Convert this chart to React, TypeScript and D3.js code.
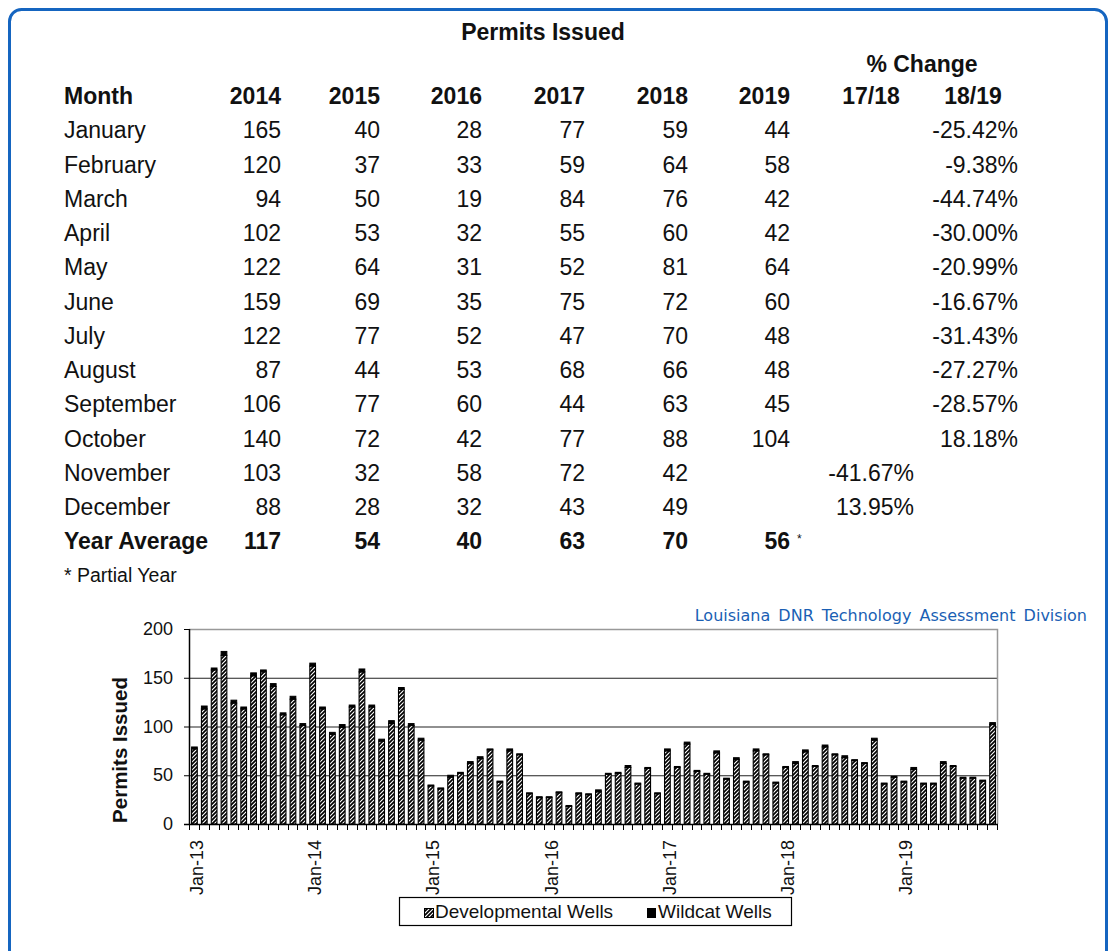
import React, { useEffect, useRef } from 'react';
import * as d3 from 'd3';

// ---- table data ----
const months = ['January', 'February', 'March', 'April', 'May', 'June', 'July', 'August', 'September', 'October', 'November', 'December'];
const years = ['2014', '2015', '2016', '2017', '2018', '2019'];
const y2014 = [165, 120, 94, 102, 122, 159, 122, 87, 106, 140, 103, 88];
const y2015 = [40, 37, 50, 53, 64, 69, 77, 44, 77, 72, 32, 28];
const y2016 = [28, 33, 19, 32, 31, 35, 52, 53, 60, 42, 58, 32];
const y2017 = [77, 59, 84, 55, 52, 75, 47, 68, 44, 77, 72, 43];
const y2018 = [59, 64, 76, 60, 81, 72, 70, 66, 63, 88, 42, 49];
const y2019 = [44, 58, 42, 42, 64, 60, 48, 48, 45, 104];
const yearAverages = [117, 54, 40, 63, 70, 56];
const change1718 = ['', '', '', '', '', '', '', '', '', '', '-41.67%', '13.95%'];
const change1819 = ['-25.42%', '-9.38%', '-44.74%', '-30.00%', '-20.99%', '-16.67%', '-31.43%', '-27.27%', '-28.57%', '18.18%', '', ''];

// ---- chart data (Jan-13 .. Oct-19) ----
const y2013 = [79, 121, 160, 177, 127, 120, 155, 158, 144, 114, 131, 103];
const monthlyTotals = [...y2013, ...y2014, ...y2015, ...y2016, ...y2017, ...y2018, ...y2019];
// wildcat share is too thin to read off the picture; rough estimate
const wildcat = [
  2, 3, 2, 4, 3, 2, 3, 2, 3, 2, 3, 2,
  3, 2, 2, 3, 2, 3, 2, 2, 3, 2, 2, 2,
  1, 1, 2, 1, 2, 2, 1, 1, 2, 1, 1, 1,
  1, 1, 1, 1, 1, 2, 1, 1, 2, 1, 1, 1,
  2, 1, 2, 1, 1, 2, 1, 2, 1, 2, 1, 1,
  1, 2, 2, 1, 2, 1, 2, 1, 1, 2, 1, 1,
  1, 2, 1, 1, 2, 1, 1, 1, 1, 2,
];
const monthAbbr = ['Jan', 'Feb', 'Mar', 'Apr', 'May', 'Jun', 'Jul', 'Aug', 'Sep', 'Oct', 'Nov', 'Dec'];
const chartLabels = monthlyTotals.map((_, i) => `${monthAbbr[i % 12]}-${13 + Math.floor(i / 12)}`);
const yTicks = [0, 50, 100, 150, 200];

const FONT = '"Liberation Sans", Arial, sans-serif';

const App = () => {
  const svgRef = useRef<SVGSVGElement>(null);

  useEffect(() => {
    const svg = d3.select(svgRef.current);
    svg.selectAll('*').remove();

    // pattern for developmental wells
    const defs = svg.append('defs');
    const pat = defs.append('pattern')
      .attr('id', 'devPattern')
      .attr('patternUnits', 'userSpaceOnUse')
      .attr('width', 4)
      .attr('height', 4);
    pat.append('rect').attr('width', 4).attr('height', 4).attr('fill', '#fff');
    pat.append('path')
      .attr('d', 'M-1,5 L5,-1 M-1,1 L1,-1 M3,5 L5,3')
      .attr('stroke', '#000')
      .attr('stroke-width', 1.7);

    // frame
    svg.append('rect')
      .attr('x', 9.5).attr('y', 9.5)
      .attr('width', 1097).attr('height', 970)
      .attr('rx', 12)
      .attr('fill', '#fff')
      .attr('stroke', '#1565c0')
      .attr('stroke-width', 3);

    // ---- table ----
    const t = svg.append('g').attr('font-family', FONT).attr('font-size', 23).attr('fill', '#111');
    t.append('text').attr('x', 543).attr('y', 40).attr('text-anchor', 'middle').attr('font-weight', 'bold').text('Permits Issued');
    t.append('text').attr('x', 922).attr('y', 72).attr('text-anchor', 'middle').attr('font-weight', 'bold').text('% Change');

    const rowY = (i: number) => 104 + i * 34.25;
    const colX = [281, 380, 482, 585, 688, 790];

    t.append('text').attr('x', 64).attr('y', rowY(0)).attr('font-weight', 'bold').text('Month');
    years.forEach((yr, j) => {
      t.append('text').attr('x', colX[j]).attr('y', rowY(0)).attr('text-anchor', 'end').attr('font-weight', 'bold').text(yr);
    });
    t.append('text').attr('x', 871).attr('y', rowY(0)).attr('text-anchor', 'middle').attr('font-weight', 'bold').text('17/18');
    t.append('text').attr('x', 973).attr('y', rowY(0)).attr('text-anchor', 'middle').attr('font-weight', 'bold').text('18/19');

    const yearCols = [y2014, y2015, y2016, y2017, y2018, y2019];
    months.forEach((m, i) => {
      const y = rowY(i + 1);
      t.append('text').attr('x', 64).attr('y', y).text(m);
      yearCols.forEach((col, j) => {
        if (col[i] !== undefined) {
          t.append('text').attr('x', colX[j]).attr('y', y).attr('text-anchor', 'end').text(col[i]);
        }
      });
      if (change1718[i]) t.append('text').attr('x', 914).attr('y', y).attr('text-anchor', 'end').text(change1718[i]);
      if (change1819[i]) t.append('text').attr('x', 1018).attr('y', y).attr('text-anchor', 'end').text(change1819[i]);
    });

    const avgY = rowY(13);
    t.append('text').attr('x', 64).attr('y', avgY).attr('font-weight', 'bold').text('Year Average');
    yearAverages.forEach((v, j) => {
      t.append('text').attr('x', colX[j]).attr('y', avgY).attr('text-anchor', 'end').attr('font-weight', 'bold').text(v);
    });
    t.append('text').attr('x', 797).attr('y', avgY - 6).attr('font-size', 12).text('*');
    t.append('text').attr('x', 64).attr('y', 582).attr('font-size', 19.5).text('* Partial Year');

    // attribution
    svg.append('text')
      .attr('x', 1087).attr('y', 621)
      .attr('text-anchor', 'end')
      .attr('font-family', '"DejaVu Sans", Verdana, sans-serif')
      .attr('font-size', 16)
      .attr('fill', '#1a5fb4')
      .attr('word-spacing', 3)
      .text('Louisiana DNR Technology Assessment Division');

    // ---- bar chart ----
    const left = 189, right = 997, top = 629, bottom = 824;
    const x = d3.scaleBand<string>().domain(chartLabels).range([left, right]).paddingInner(0.42).paddingOuter(0.21);
    const y = d3.scaleLinear().domain([0, 200]).range([bottom, top]);
    const step = x.step();

    const c = svg.append('g').attr('font-family', FONT);

    // gridlines
    yTicks.filter(v => v > 0 && v < 200).forEach(v => {
      c.append('line')
        .attr('x1', left).attr('x2', right)
        .attr('y1', y(v) + 0.5).attr('y2', y(v) + 0.5)
        .attr('stroke', '#222').attr('stroke-width', 1.2);
    });
    // plot border top/right
    c.append('path')
      .attr('d', `M${left},${y(200) + 0.5} H${right + 0.5} V${bottom}`)
      .attr('fill', 'none').attr('stroke', '#999').attr('stroke-width', 1.5);

    // bars
    const stackData = monthlyTotals.map((tot, i) => ({
      label: chartLabels[i],
      dev: tot - wildcat[i],
      wild: wildcat[i],
    }));
    const bars = c.append('g');
    bars.selectAll('rect.dev')
      .data(stackData)
      .enter()
      .append('rect')
      .attr('class', 'dev')
      .attr('x', d => (x(d.label) as number) + 0.5)
      .attr('y', d => y(d.dev))
      .attr('width', x.bandwidth())
      .attr('height', d => y(0) - y(d.dev))
      .attr('fill', 'url(#devPattern)')
      .attr('stroke', '#000')
      .attr('stroke-width', 1.1);
    bars.selectAll('rect.wild')
      .data(stackData)
      .enter()
      .append('rect')
      .attr('class', 'wild')
      .attr('x', d => (x(d.label) as number) + 0.5)
      .attr('y', d => y(d.dev + d.wild))
      .attr('width', x.bandwidth())
      .attr('height', d => y(d.dev) - y(d.dev + d.wild))
      .attr('fill', '#000')
      .attr('stroke', '#000')
      .attr('stroke-width', 1);

    // axes lines
    c.append('line').attr('x1', left + 0.5).attr('x2', left + 0.5).attr('y1', top).attr('y2', bottom + 1)
      .attr('stroke', '#000').attr('stroke-width', 1.5);
    c.append('line').attr('x1', left - 5).attr('x2', right + 1).attr('y1', bottom + 0.5).attr('y2', bottom + 0.5)
      .attr('stroke', '#000').attr('stroke-width', 1.5);

    // y ticks
    yTicks.forEach(v => {
      c.append('line').attr('x1', left - 5).attr('x2', left).attr('y1', y(v) + 0.5).attr('y2', y(v) + 0.5)
        .attr('stroke', '#000');
      c.append('text')
        .attr('x', 173).attr('y', y(v) + 6)
        .attr('text-anchor', 'end')
        .attr('font-size', 18)
        .attr('fill', '#111')
        .text(v);
    });

    // x ticks (between months)
    d3.range(chartLabels.length + 1).forEach(i => {
      const xx = Math.round(left + i * step) + 0.5;
      c.append('line').attr('x1', xx).attr('x2', xx).attr('y1', bottom).attr('y2', bottom + 6)
        .attr('stroke', '#000');
    });

    // x labels (January only)
    chartLabels.forEach((lab, i) => {
      if (i % 12 !== 0) return;
      const cx = (x(lab) as number) + x.bandwidth() / 2 + 9;
      c.append('text')
        .attr('transform', `translate(${cx},${bottom + 16}) rotate(-90)`)
        .attr('text-anchor', 'end')
        .attr('font-size', 18)
        .attr('fill', '#111')
        .text(lab);
    });

    // y axis title
    c.append('text')
      .attr('transform', `translate(127,750) rotate(-90)`)
      .attr('text-anchor', 'middle')
      .attr('font-size', 20.5)
      .attr('font-weight', 'bold')
      .attr('fill', '#111')
      .text('Permits Issued');

    // legend
    const lg = c.append('g');
    lg.append('rect').attr('x', 399.5).attr('y', 897.5).attr('width', 392).attr('height', 28)
      .attr('fill', '#fff').attr('stroke', '#000').attr('stroke-width', 1.2);
    lg.append('rect').attr('x', 424.5).attr('y', 908.5).attr('width', 9).attr('height', 9)
      .attr('fill', 'url(#devPattern)').attr('stroke', '#000');
    lg.append('text').attr('x', 435).attr('y', 918).attr('font-size', 19).attr('fill', '#111').text('Developmental Wells');
    lg.append('rect').attr('x', 647.5).attr('y', 908.5).attr('width', 8).attr('height', 9)
      .attr('fill', '#000').attr('stroke', '#000');
    lg.append('text').attr('x', 658).attr('y', 918).attr('font-size', 19).attr('fill', '#111').text('Wildcat Wells');
  }, []);

  return (
    <svg
      ref={svgRef}
      width={1110}
      height={951}
      style={{ position: 'absolute', left: 0, top: 0, background: '#fff' }}
    />
  );
};

export default App;
